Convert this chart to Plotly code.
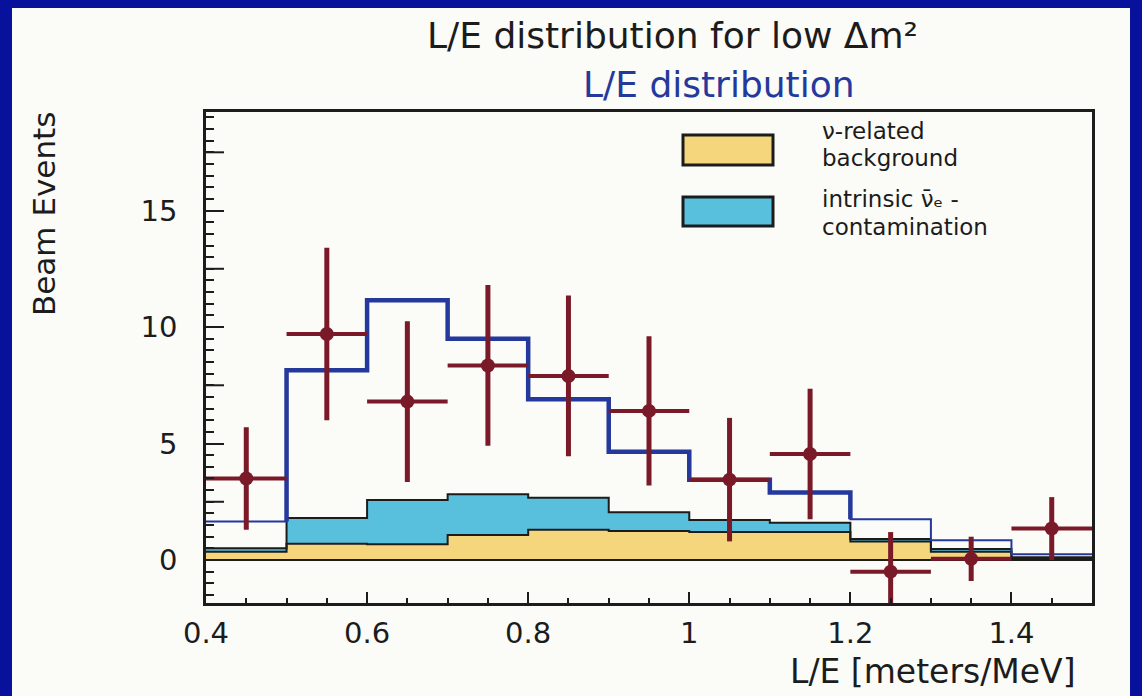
import plotly.graph_objects as go

# Histogram bins in L/E [meters/MeV]
bin_edges = [0.4, 0.5, 0.6, 0.7, 0.8, 0.9, 1.0, 1.1, 1.2, 1.3, 1.4, 1.5]

# Measured beam-on excess events and their uncertainties
beam_events = [3.5, 9.7, 6.8, 8.35, 7.9, 6.4, 3.45, 4.55, -0.5, 0.05, 1.35]
beam_errors = [2.2, 3.7, 3.45, 3.45, 3.45, 3.2, 2.65, 2.8, 1.7, 0.95, 1.35]

# Expectation for low delta-m^2 (backgrounds plus oscillation signal)
expected_total = [1.65, 8.15, 11.15, 9.5, 6.9, 4.65, 3.45, 2.9, 1.75, 0.85, 0.25]

# Background components (stacked)
nu_related_bg = [0.35, 0.7, 0.68, 1.07, 1.3, 1.25, 1.2, 1.2, 0.8, 0.36, 0.08]
nuebar_contam = [0.15, 1.1, 1.9, 1.75, 1.37, 0.8, 0.52, 0.4, 0.1, 0.11, 0.04]

x_tick_vals = [0.4, 0.6, 0.8, 1.0, 1.2, 1.4]
x_tick_text = ["0.4", "0.6", "0.8", "1", "1.2", "1.4"]
y_tick_vals = [0, 5, 10, 15]
y_tick_text = ["0", "5", "10", "15"]
y_half_ticks = [2.5, 7.5, 12.5, 17.5]

FONT = "DejaVu Sans"
INK = "#1c1c1c"
PAGE_BLUE = "#07119b"
PANEL = "#fbfbf7"
LINE_BLUE = "#25399c"
DATA_RED = "#7a1a28"
YELLOW = "#f5d67c"
CYAN = "#58c0dc"

bin_centers = [(a + b) / 2 for a, b in zip(bin_edges[:-1], bin_edges[1:])]
half_width = (bin_edges[1] - bin_edges[0]) / 2
stack_top = [b + c for b, c in zip(nu_related_bg, nuebar_contam)]
y_range = [-1.845, 19.23]


def step(vals):
    """Repeat the last bin so an 'hv' line closes at the final edge."""
    return list(vals) + [vals[-1]]


fig = go.Figure()

# zero baseline
fig.add_trace(go.Scatter(
    x=bin_edges, y=[0] * len(bin_edges), mode="lines",
    line=dict(color=INK, width=2, shape="hv"), hoverinfo="skip"))

# nu-related background
fig.add_trace(go.Scatter(
    x=bin_edges, y=step(nu_related_bg), mode="lines", fill="tonexty",
    fillcolor=YELLOW, line=dict(color=INK, width=2, shape="hv"),
    name="ν-related background"))

# intrinsic anti-nu_e contamination stacked on top
fig.add_trace(go.Scatter(
    x=bin_edges, y=step(stack_top), mode="lines", fill="tonexty",
    fillcolor=CYAN, line=dict(color=INK, width=2, shape="hv"),
    name="intrinsic ν̄ₑ contamination"))

# expectation: thin over the full range
fig.add_trace(go.Scatter(
    x=bin_edges, y=step(expected_total), mode="lines",
    line=dict(color=LINE_BLUE, width=2, shape="hv"), hoverinfo="skip"))

# expectation: heavy line over the central bins
thick_x = [bin_edges[1]] + bin_edges[1:9]
thick_y = [expected_total[0]] + expected_total[1:9]
fig.add_trace(go.Scatter(
    x=thick_x, y=thick_y, mode="lines",
    line=dict(color=LINE_BLUE, width=4.5, shape="hv"), hoverinfo="skip"))

# beam data points
fig.add_trace(go.Scatter(
    x=bin_centers, y=beam_events, mode="markers",
    marker=dict(color=DATA_RED, size=14, symbol="circle"),
    error_y=dict(type="data", array=beam_errors, visible=True,
                 color=DATA_RED, thickness=5, width=0),
    error_x=dict(type="constant", value=half_width, visible=True,
                 color=DATA_RED, thickness=4, width=0),
    name="Beam Events"))

# plot-area geometry (pixels) used for placing decorations in paper units
W, H = 1142, 696
ML, MR, MT, MB = 206, 50, 112, 93
PW, PH = W - ML - MR, H - MT - MB
MAJOR_TICK = 18


def px(xp):
    return (xp - ML) / PW


def py(yp):
    return (H - MB - yp) / PH


shapes = [
    # light panel on the blue page
    dict(type="rect", xref="paper", yref="paper", layer="below",
         x0=px(12), x1=px(1130), y0=py(696), y1=py(8),
         fillcolor=PANEL, line=dict(width=0)),
    # legend swatches
    dict(type="rect", xref="paper", yref="paper",
         x0=px(683), x1=px(773), y0=py(165), y1=py(135),
         fillcolor=YELLOW, line=dict(color=INK, width=3)),
    dict(type="rect", xref="paper", yref="paper",
         x0=px(683), x1=px(773), y0=py(226), y1=py(197),
         fillcolor=CYAN, line=dict(color=INK, width=3)),
]
# long unlabeled ticks halfway between the labeled ones
for v in y_half_ticks:
    shapes.append(dict(type="line", xref="paper", yref="y",
                       x0=0, x1=MAJOR_TICK / PW, y0=v, y1=v,
                       line=dict(color=INK, width=2)))

annotations = [
    dict(text="L/E distribution for low Δm²", x=px(672), y=py(36),
         font=dict(family=FONT, size=36, color=INK)),
    dict(text="L/E distribution", x=px(719), y=py(84),
         font=dict(family=FONT, size=36, color=LINE_BLUE)),
    dict(text="Beam Events", x=px(44), y=py(214), textangle=-90,
         font=dict(family=FONT, size=31, color=INK)),
    dict(text="L/E [meters/MeV]", x=px(1078), y=py(671), xanchor="right",
         font=dict(family=FONT, size=33, color=INK)),
    dict(text="ν-related", x=px(820), y=py(131), xanchor="left",
         font=dict(family=FONT, size=23, color=INK)),
    dict(text="background", x=px(820), y=py(158), xanchor="left",
         font=dict(family=FONT, size=23, color=INK)),
    dict(text="intrinsic ν̄ₑ -", x=px(820), y=py(199), xanchor="left",
         font=dict(family=FONT, size=23, color=INK)),
    dict(text="contamination", x=px(820), y=py(227), xanchor="left",
         font=dict(family=FONT, size=23, color=INK)),
]
for a in annotations:
    a.update(xref="paper", yref="paper", showarrow=False)
    a.setdefault("xanchor", "center")
    a.setdefault("yanchor", "middle")

fig.update_layout(
    width=W, height=H,
    margin=dict(l=ML, r=MR, t=MT, b=MB),
    paper_bgcolor=PAGE_BLUE, plot_bgcolor=PANEL,
    showlegend=False,
    shapes=shapes, annotations=annotations,
    font=dict(family=FONT, color=INK),
)

fig.update_xaxes(
    range=[bin_edges[0], bin_edges[-1]],
    showline=True, linecolor=INK, linewidth=2.5, mirror=True,
    showgrid=False, zeroline=False,
    tickmode="array", tickvals=x_tick_vals, ticktext=x_tick_text,
    ticks="inside", ticklen=11, tickwidth=2, tickcolor=INK,
    tickfont=dict(family=FONT, size=29, color=INK),
    ticklabelstandoff=2,
    minor=dict(ticks="inside", tickmode="linear", tick0=0.4, dtick=0.05,
               ticklen=5, tickwidth=2, tickcolor=INK, showgrid=False),
)

fig.update_yaxes(
    range=y_range,
    showline=True, linecolor=INK, linewidth=2.5, mirror=True,
    showgrid=False, zeroline=False,
    tickmode="array", tickvals=y_tick_vals, ticktext=y_tick_text,
    ticks="inside", ticklen=MAJOR_TICK, tickwidth=2, tickcolor=INK,
    tickfont=dict(family=FONT, size=29, color=INK),
    ticklabelstandoff=20,
    minor=dict(ticks="inside", tickmode="linear", tick0=0, dtick=0.5,
               ticklen=8, tickwidth=2, tickcolor=INK, showgrid=False),
)

fig.write_html("out.html")
